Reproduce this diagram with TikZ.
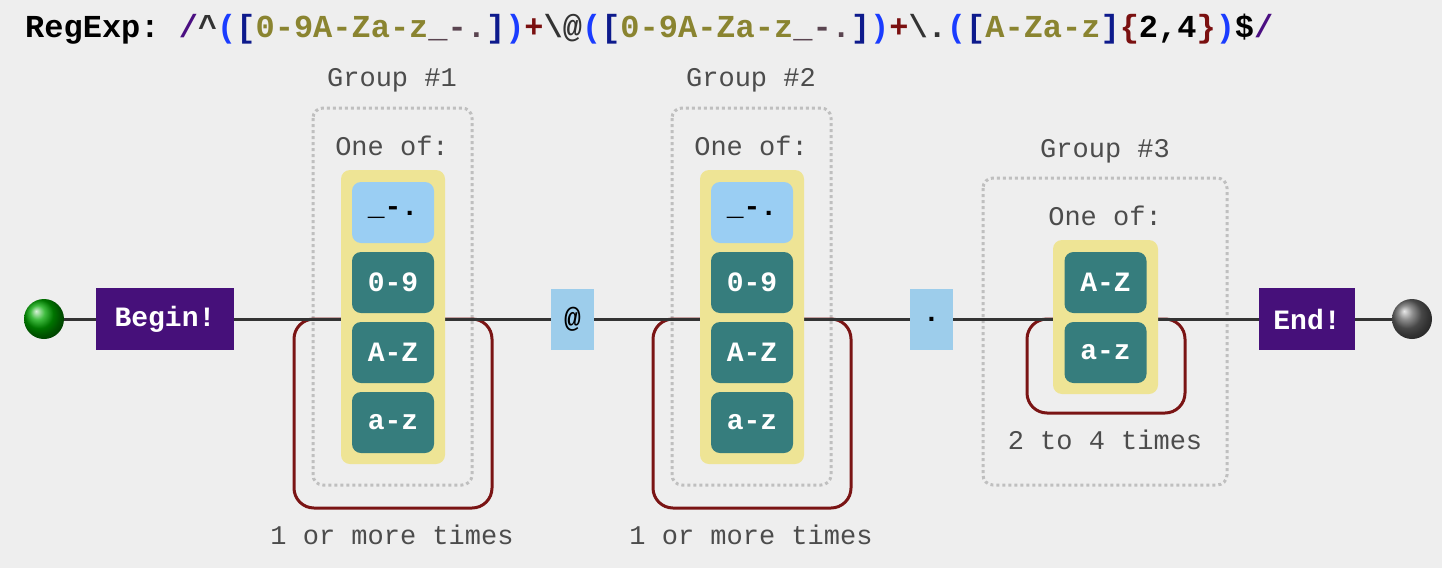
\documentclass[tikz,border=0pt]{standalone}
\usepackage{fontspec}
\setmonofont{Liberation Mono}
\begin{document}
\begin{tikzpicture}[x=1pt,y=-1pt,
  lbl/.style={font=\ttfamily\fontsize{27}{27}\selectfont, text=black!70},
  term/.style={fill=termc, rounded corners=9pt, minimum width=82pt, minimum height=61pt, inner sep=0pt, text=white, font=\ttfamily\bfseries\fontsize{28}{28}\selectfont},
  lit/.style={fill=litc, rounded corners=9pt, minimum width=82pt, minimum height=61pt, inner sep=0pt, text=black, font=\ttfamily\bfseries\fontsize{28}{28}\selectfont},
  anch/.style={fill=anchc, minimum height=62pt, inner sep=0pt, text=white, font=\ttfamily\bfseries\fontsize{28}{28}\selectfont},
  single/.style={fill=singc, minimum width=43pt, minimum height=61pt, inner sep=0pt, font=\ttfamily\bfseries\fontsize{28}{28}\selectfont},
  grp/.style={draw=black!25, line width=3pt, dash pattern=on 3pt off 3pt, rounded corners=10pt},
  yel/.style={fill=yelc, rounded corners=9pt},
  loop/.style={draw=loopc, line width=3pt, rounded corners=20pt},
  rail/.style={draw=railc, line width=3pt}]
\definecolor{termc}{HTML}{367D7D}
\definecolor{litc}{HTML}{9ACEF3}
\definecolor{singc}{HTML}{9DCDEB}
\definecolor{anchc}{HTML}{46107A}
\definecolor{yelc}{HTML}{EEE495}
\definecolor{loopc}{HTML}{7A1414}
\definecolor{railc}{HTML}{333333}
\definecolor{bgc}{HTML}{EEEEEE}
\definecolor{rxp}{HTML}{4B0F82}
\definecolor{rxb}{HTML}{1A3CFF}
\definecolor{rxn}{HTML}{0D1A8C}
\definecolor{rxo}{HTML}{8A8430}
\definecolor{rxr}{HTML}{7A1010}
\definecolor{rxg}{HTML}{5A4450}
\fill[bgc] (0,0) rectangle (1442,568);
\useasboundingbox (0,0) rectangle (1442,568);
\node[anchor=base west, inner sep=0pt, font=\ttfamily\bfseries\fontsize{32}{32}\selectfont] (title) at (25,37) {RegExp: \textcolor{rxp}{/}\textcolor{black!80}{\textasciicircum}\textcolor{rxb}{(}\textcolor{rxn}{[}\textcolor{rxo}{0-9A-Za-z}\textcolor{rxg}{\_-.}\textcolor{rxn}{]}\textcolor{rxb}{)}\textcolor{rxr}{+}\textcolor{black!80}{\textbackslash @}\textcolor{rxb}{(}\textcolor{rxn}{[}\textcolor{rxo}{0-9A-Za-z}\textcolor{rxg}{\_-.}\textcolor{rxn}{]}\textcolor{rxb}{)}\textcolor{rxr}{+}\textcolor{black!80}{\textbackslash .}\textcolor{rxb}{(}\textcolor{rxn}{[}\textcolor{rxo}{A-Za-z}\textcolor{rxn}{]}\textcolor{rxr}{\{}2,4\textcolor{rxr}{\}}\textcolor{rxb}{)}\$\textcolor{rxp}{/}};
% group frames
\draw[grp] (313,108) rectangle (472,485);
\draw[grp] (672,108) rectangle (831,485);
\draw[grp] (983,178) rectangle (1227,485);
% loops
\draw[loop] (294,319) rectangle (492,508);
\draw[loop] (653,319) rectangle (851,508);
\draw[loop] (1027,319) rectangle (1185,413);
% start/end
\shade[ball color=green!65!black] (44,319) circle (20);
\node[circle, minimum size=40pt, inner sep=0pt] (st) at (44,319) {};
\shade[ball color=black!60] (1412,319) circle (20);
\node[circle, minimum size=40pt, inner sep=0pt] (en) at (1412,319) {};
\node[anch, minimum width=138pt] (begin) at (165,319) {Begin!};
\node[anch, minimum width=96pt] (end) at (1307,319) {End!};
\node[single] (at) at (572.5,319) {@};
\node[single] (dot) at (931.5,319) {.};
% rail
\draw[rail] (st) -- (begin) (begin) -- (at) (at) -- (dot) (dot) -- (end) (end) -- (en);
% groups
\foreach \dx/\n in {0/1,359/2}{
  \begin{scope}[xshift=\dx]
  \node[lbl] at (392,80) {Group \#\n};
  \node[lbl] at (392,146) {One of:};
  \fill[yel] (341,170) rectangle (445,464);
  \node[lit] at (393,212.5) {\_-.};
  \node[term] at (393,282.5) {0-9};
  \node[term] at (393,352.5) {A-Z};
  \node[term] at (393,422.5) {a-z};
  \node[lbl] at (392,535) {1 or more times};
  \end{scope}}
\node[lbl] at (1105,151) {Group \#3};
\node[lbl] at (1105,216) {One of:};
\fill[yel] (1053,240) rectangle (1158,394);
\node[term] at (1105.5,282.5) {A-Z};
\node[term] at (1105.5,352.5) {a-z};
\node[lbl] at (1105,440) {2 to 4 times};
\end{tikzpicture}
\end{document}
